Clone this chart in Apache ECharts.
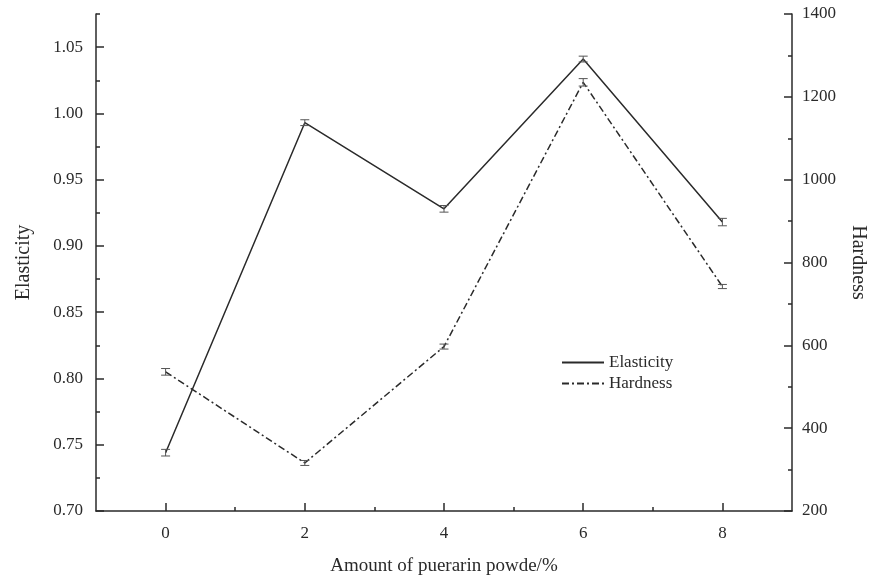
<!DOCTYPE html>
<html>
<head>
<meta charset="utf-8">
<style>
  html, body { margin: 0; padding: 0; background: #fff; }
  #chart { width: 873px; height: 579px; }
</style>
<script src="https://cdn.jsdelivr.net/npm/echarts@6/dist/echarts.min.js"></script>
</head>
<body>
<div id="chart"></div>
<script>
// amount of puerarin powder (%)
const amounts = [0, 2, 4, 6, 8]
const elasticity = [0.744, 0.993, 0.928, 1.041, 0.918]
const elasticityErr = [0.0025, 0.0022, 0.0025, 0.0022, 0.0028]
const hardness = [536, 316, 597, 1235, 742]
const hardnessErr = [8, 6, 6, 9, 5]

// tick values
const xMajorTicks = [0, 2, 4, 6, 8]
const xMinorTicks = [1, 3, 5, 7]
const leftMajorTicks = [0.70, 0.75, 0.80, 0.85, 0.90, 0.95, 1.00, 1.05]
const leftMinorTicks = [0.725, 0.775, 0.825, 0.875, 0.925, 0.975, 1.025, 1.075]

const font = 'Liberation Serif'
const ink = '#2a2a2a'

const lineData = (ys) => amounts.map((x, i) => [x, ys[i]])
const errData = (ys, es) => amounts.map((x, i) => [x, ys[i] - es[i], ys[i] + es[i]])

function errorBar(params, api) {
  const x = api.value(0)
  const lo = api.coord([x, api.value(1)])
  const hi = api.coord([x, api.value(2)])
  const w = 4.5
  const style = { stroke: '#555', lineWidth: 1 }
  return {
    type: 'group',
    children: [
      { type: 'line', shape: { x1: lo[0], y1: lo[1], x2: hi[0], y2: hi[1] }, style },
      { type: 'line', shape: { x1: lo[0] - w, y1: lo[1], x2: lo[0] + w, y2: lo[1] }, style },
      { type: 'line', shape: { x1: hi[0] - w, y1: hi[1], x2: hi[0] + w, y2: hi[1] }, style }
    ]
  }
}

const axisLine = { show: true, onZero: false, lineStyle: { color: ink, width: 1.5 } }
const noLine = { show: false, onZero: false }
const labelStyle = { color: ink, fontFamily: font, fontSize: 17 }
const nameStyle = { color: ink, fontFamily: font, fontSize: 20 }

const chart = echarts.init(document.getElementById('chart'))
chart.setOption({
  animation: false,
  backgroundColor: '#fff',
  grid: { left: 96, right: 81, top: 14, bottom: 68, outerBoundsMode: 'none', containLabel: false },
  legend: {
    data: ['Elasticity', 'Hardness'],
    orient: 'vertical',
    left: 561,
    top: 354,
    padding: 0,
    itemWidth: 42,
    itemHeight: 14,
    itemGap: 4,
    itemStyle: { opacity: 0 },
    textStyle: { color: ink, fontFamily: font, fontSize: 17 }
  },
  xAxis: [{
    type: 'value',
    min: -1,
    max: 9,
    name: 'Amount of puerarin powde/%',
    nameLocation: 'middle',
    nameGap: 46,
    nameTextStyle: { ...nameStyle, fontSize: 19 },
    axisLine,
    axisTick: { show: true, inside: true, length: 8, customValues: xMajorTicks, lineStyle: { color: ink, width: 1.5 } },
    axisLabel: { ...labelStyle, margin: 14, customValues: xMajorTicks },
    splitLine: { show: false }
  }, {
    type: 'value',
    position: 'bottom',
    min: -1,
    max: 9,
    axisLine: noLine,
    axisTick: { show: true, inside: true, length: 4, customValues: xMinorTicks, lineStyle: { color: ink, width: 1.5 } },
    axisLabel: { show: false },
    splitLine: { show: false }
  }],
  yAxis: [{
    type: 'value',
    position: 'left',
    min: 0.70,
    max: 1.075,
    name: 'Elasticity',
    nameLocation: 'middle',
    nameGap: 62,
    nameTextStyle: nameStyle,
    axisLine,
    axisTick: { show: true, inside: true, length: 8, customValues: leftMajorTicks, lineStyle: { color: ink, width: 1.5 } },
    axisLabel: { ...labelStyle, margin: 13, customValues: leftMajorTicks, formatter: v => v.toFixed(2) },
    splitLine: { show: false }
  }, {
    type: 'value',
    position: 'right',
    min: 200,
    max: 1400,
    interval: 200,
    name: 'Hardness',
    nameLocation: 'middle',
    nameGap: 56,
    nameRotate: -90,
    nameTextStyle: nameStyle,
    axisLine,
    axisTick: { show: true, inside: true, length: 8, lineStyle: { color: ink, width: 1.5 } },
    minorTick: { show: true, splitNumber: 2, length: 4, lineStyle: { color: ink, width: 1.5 } },
    axisLabel: { ...labelStyle, margin: 10, formatter: v => String(v) },
    splitLine: { show: false }
  }, {
    type: 'value',
    position: 'left',
    min: 0.70,
    max: 1.075,
    axisLine: noLine,
    axisTick: { show: true, inside: true, length: 4, customValues: leftMinorTicks, lineStyle: { color: ink, width: 1.5 } },
    axisLabel: { show: false },
    splitLine: { show: false }
  }],
  series: [{
    name: 'Elasticity',
    type: 'line',
    yAxisIndex: 0,
    data: lineData(elasticity),
    symbol: 'none',
    color: ink,
    lineStyle: { color: ink, width: 1.5 },
    z: 3
  }, {
    name: 'Hardness',
    type: 'line',
    yAxisIndex: 1,
    data: lineData(hardness),
    symbol: 'none',
    color: ink,
    lineStyle: { color: ink, width: 1.5, type: [7, 3, 2, 3] },
    z: 3
  }, {
    type: 'custom',
    yAxisIndex: 0,
    renderItem: errorBar,
    data: errData(elasticity, elasticityErr),
    z: 4
  }, {
    type: 'custom',
    yAxisIndex: 1,
    renderItem: errorBar,
    data: errData(hardness, hardnessErr),
    z: 4
  }]
})
</script>
</body>
</html>
